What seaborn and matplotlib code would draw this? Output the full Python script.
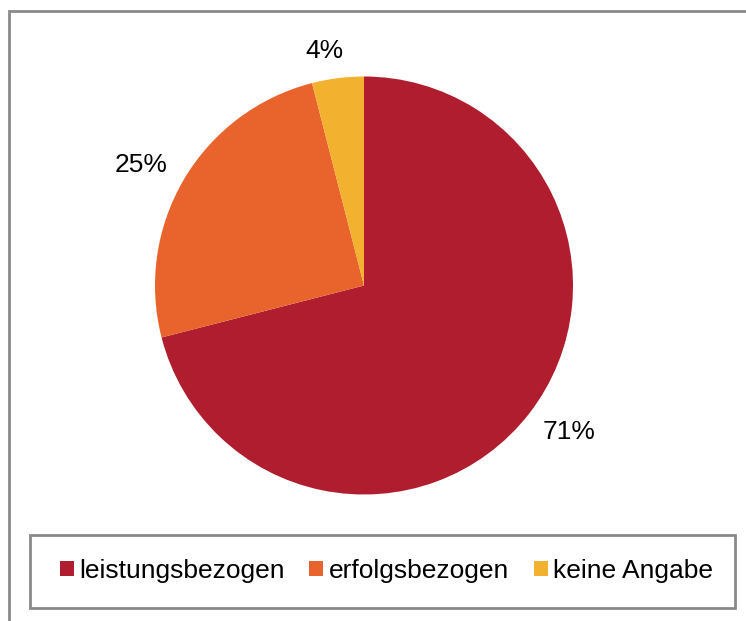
import matplotlib
matplotlib.use("Agg")
import numpy as np
import matplotlib.pyplot as plt
import seaborn as sns
from matplotlib.patches import Patch, Rectangle

# ================================
# Datos
# ================================
kategorien = ["leistungsbezogen", "erfolgsbezogen", "keine Angabe"]
anteile = [71, 25, 4]
farben = ["#B01D2E", "#E8642C", "#F2B12F"]

sns.set_theme(style="white")
plt.rcParams["font.family"] = ["Liberation Sans", "DejaVu Sans"]
palette = sns.color_palette(farben)

W, H = 746, 621
fig = plt.figure(figsize=(W / 100, H / 100), dpi=100)

# Kreisdiagramm: Mittelpunkt (364, 285) px, Radius 209 px
cx, cy, r = 364, 285.5, 209
ax = fig.add_axes([(cx - r) / W, (H - cy - r) / H, 2 * r / W, 2 * r / H])
wedges, texts, autotexts = ax.pie(
    anteile, colors=palette, startangle=90, counterclock=False,
    autopct="%1.0f%%", pctdistance=1.2, radius=1,
    wedgeprops={"linewidth": 0},
    textprops={"fontsize": 19, "color": "black"})
ax.set_xlim(-1, 1)
ax.set_ylim(-1, 1)
ax.set_aspect("equal")
ax.axis("off")

# Beschriftung ausserhalb des Randes (wie Excel "Ende außerhalb")
fig.canvas.draw()
renderer = fig.canvas.get_renderer()
for w, t in zip(wedges, autotexts):
    theta = np.deg2rad((w.theta1 + w.theta2) / 2 + 2.3)
    bb = t.get_window_extent(renderer)
    hw = bb.width / 2 / r
    hh = (bb.height / 2 - 3) / r
    d = 1.08 + abs(np.cos(theta)) * hw + abs(np.sin(theta)) * hh
    t.set_position((d * np.cos(theta), d * np.sin(theta)))

# Rahmen aussen
fig.add_artist(Rectangle((9 / W, -0.1), 1.2, 1.1 - 11 / H,
                         transform=fig.transFigure, fill=False,
                         edgecolor="#8a8a8a", linewidth=2))

# Legendenrahmen
fig.add_artist(Rectangle((30 / W, (H - 608) / H), (735 - 30) / W, (608 - 535) / H,
                         transform=fig.transFigure, fill=False,
                         edgecolor="#8a8a8a", linewidth=2))

handles = [Patch(facecolor=c, edgecolor="none", label=k) for c, k in zip(palette, kategorien)]
fig.legend(handles=handles, loc="center",
           bbox_to_anchor=(386.5 / W, (H - 571) / H), ncol=3, frameon=False,
           fontsize=19, labelcolor="black", handlelength=0.53, handleheight=0.53,
           handletextpad=0.2, columnspacing=0.95, borderaxespad=0, borderpad=0)

plt.savefig("out.png", dpi=100)
